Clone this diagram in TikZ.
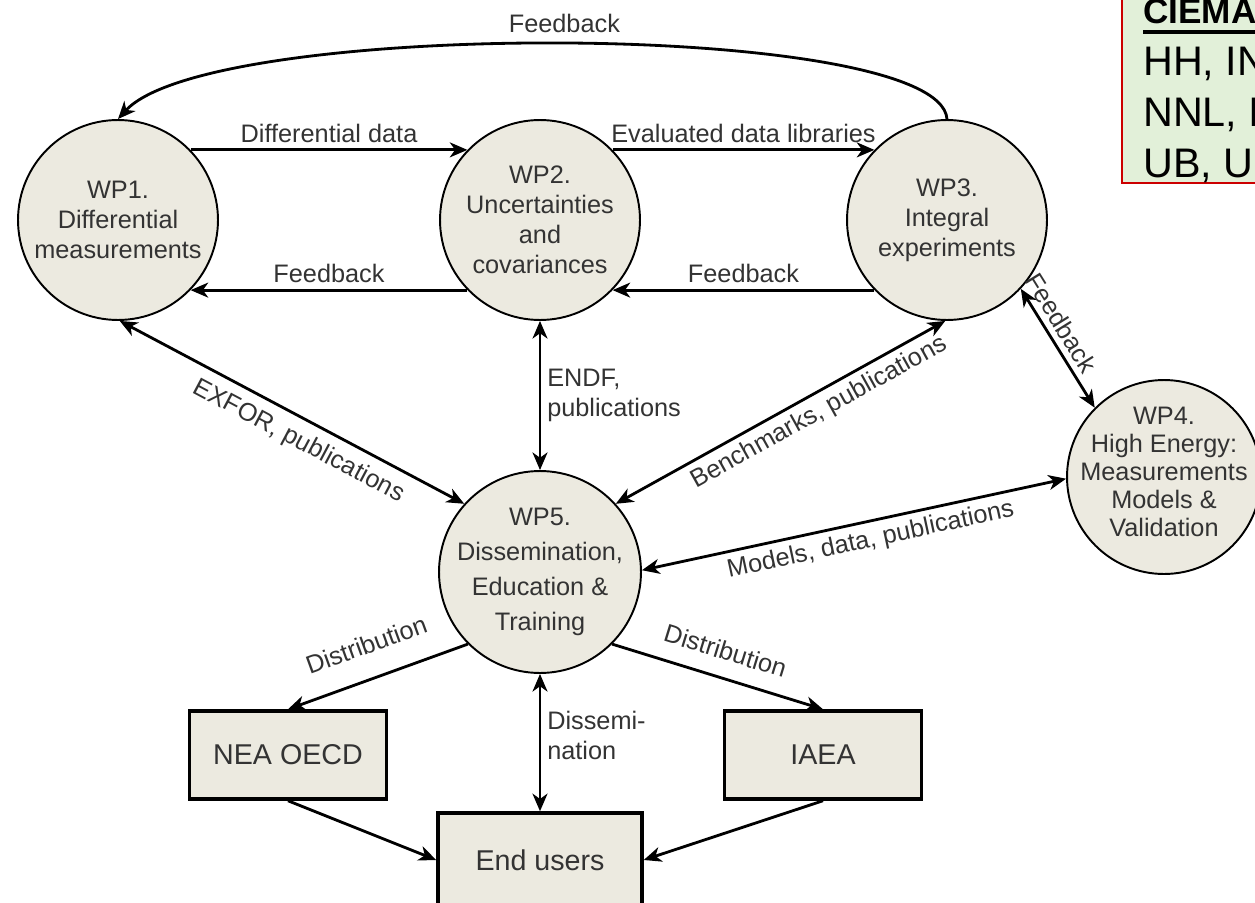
\documentclass[tikz,border=0pt]{standalone}
\usepackage{fontspec}
\setmainfont{Liberation Sans}
\usetikzlibrary{arrows.meta}
\definecolor{wpfill}{RGB}{236,234,224}
\definecolor{wptext}{gray}{0.2}
\definecolor{notegreen}{RGB}{226,240,217}
\definecolor{notered}{RGB}{204,0,0}

\begin{document}
\begin{tikzpicture}[x=0.02cm, y=-0.02cm, >={Stealth[length=10pt, width=8.5pt, inset=3pt]},
    wp/.style={circle, draw, line width=1.1pt, fill=wpfill, inner sep=0pt, minimum size=4cm},
    wptxt/.style={align=center, text=wptext, font=\fontsize{14.4}{17}\selectfont},
    org/.style={draw, line width=2pt, fill=wpfill, text=wptext, font=\fontsize{16.3}{19}\selectfont, minimum width=3.94cm, minimum height=1.76cm},
    lbl/.style={text=wptext, font=\fontsize{14.4}{17}\selectfont},
    link/.style={->, line width=1.6pt},
    twoway/.style={<->, line width=1.6pt}]
    \useasboundingbox (0,0) rectangle (1255,903);

    % work packages
    \node[wp, label={[wptxt]center:WP1.\\Differential\\measurements}] (wp1) at (118,220) {};
    \node[wp, label={[wptxt]center:WP2.\\Uncertainties\\and\\covariances}] (wp2) at (540,220) {};
    \node[wp, label={[wptxt]center:WP3.\\Integral\\experiments}] (wp3) at (947,220) {};
    \node[wp, minimum size=3.88cm, label={[wptxt, font=\fontsize{14.4}{16}\selectfont, yshift=0.1cm]center:WP4.\\High Energy:\\Measurements\\Models \&\\Validation}] (wp4) at (1164,477) {};
    \node[wp, minimum size=4.04cm, label={[wptxt, font=\fontsize{14.4}{19.8}\selectfont]center:WP5.\\Dissemination,\\Education \&\\Training}] (wp5) at (540,572) {};

    % organisations
    \node[org] (nea) at (288,755) {NEA OECD};
    \node[org] (iaea) at (823,755) {IAEA};
    \node[org, minimum width=4.08cm, minimum height=1.88cm] (users) at (540,860) {End users};

    % flows between the packages
    \draw[link] (wp3.north) .. controls (940,20) and (210,18) .. node[lbl, above=2pt] {Feedback} (wp1.north);
    \draw[link] (wp1.44) -- node[lbl, above] {Differential data} (wp2.136);
    \draw[link] (wp2.44) -- node[lbl, above] {Evaluated data libraries} (wp3.136);
    \draw[link] (wp2.224) -- node[lbl, above] {Feedback} (wp1.316);
    \draw[link] (wp3.224) -- node[lbl, above] {Feedback} (wp2.316);
    \draw[twoway] (wp1.271) -- node[lbl, sloped, below=2pt, pos=0.55] {EXFOR, publications} (wp5.138);
    \draw[twoway] (wp2.south) -- node[lbl, right, align=left] {ENDF,\\publications} (wp5.north);
    \draw[twoway] (wp5.42) -- node[lbl, sloped, below, pos=0.59] {Benchmarks, publications} (wp3.269);
    \draw[twoway] (wp3.317) -- node[lbl, sloped, above, pos=0.36] {Feedback} (wp4.135);
    \draw[twoway] (wp5.1) -- node[lbl, sloped, below, pos=0.53] {Models, data, publications} (wp4.181);

    % distribution to users
    \draw[link] (wp5.225) -- node[lbl, sloped, above=10pt] {Distribution} (nea.north);
    \draw[link] (wp5.-45) -- node[lbl, sloped, above=6pt] {Distribution} (iaea.north);
    \draw[twoway] (wp5.south) -- node[lbl, right, align=left, pos=0.45] {Dissemi-\\nation} (users.north);
    \draw[link] (nea.south) -- (users.west);
    \draw[link] (iaea.south) -- (users.east);

    % partner box
    \fill[notegreen] (1122,-5) rectangle (1265,183);
    \draw[notered, line width=1.3pt] (1265,183) -- (1122,183) -- (1122,-5);
    \node[anchor=base west, inner sep=0pt, font=\fontsize{20}{24}\selectfont\bfseries] (lead) at (1143,23) {CIEMA};
    \draw[line width=2.3pt] (1143,32) -- (1265,32);
    \node[anchor=base west, inner sep=0pt, font=\fontsize{23.5}{29}\selectfont] (row1) at (1143,75) {HH, IN};
    \node[anchor=base west, inner sep=0pt, font=\fontsize{23.5}{29}\selectfont] (row2) at (1143,126) {NNL, I};
    \node[anchor=base west, inner sep=0pt, font=\fontsize{23.5}{29}\selectfont] (row3) at (1143,177) {UB, U};
\end{tikzpicture}
\end{document}
